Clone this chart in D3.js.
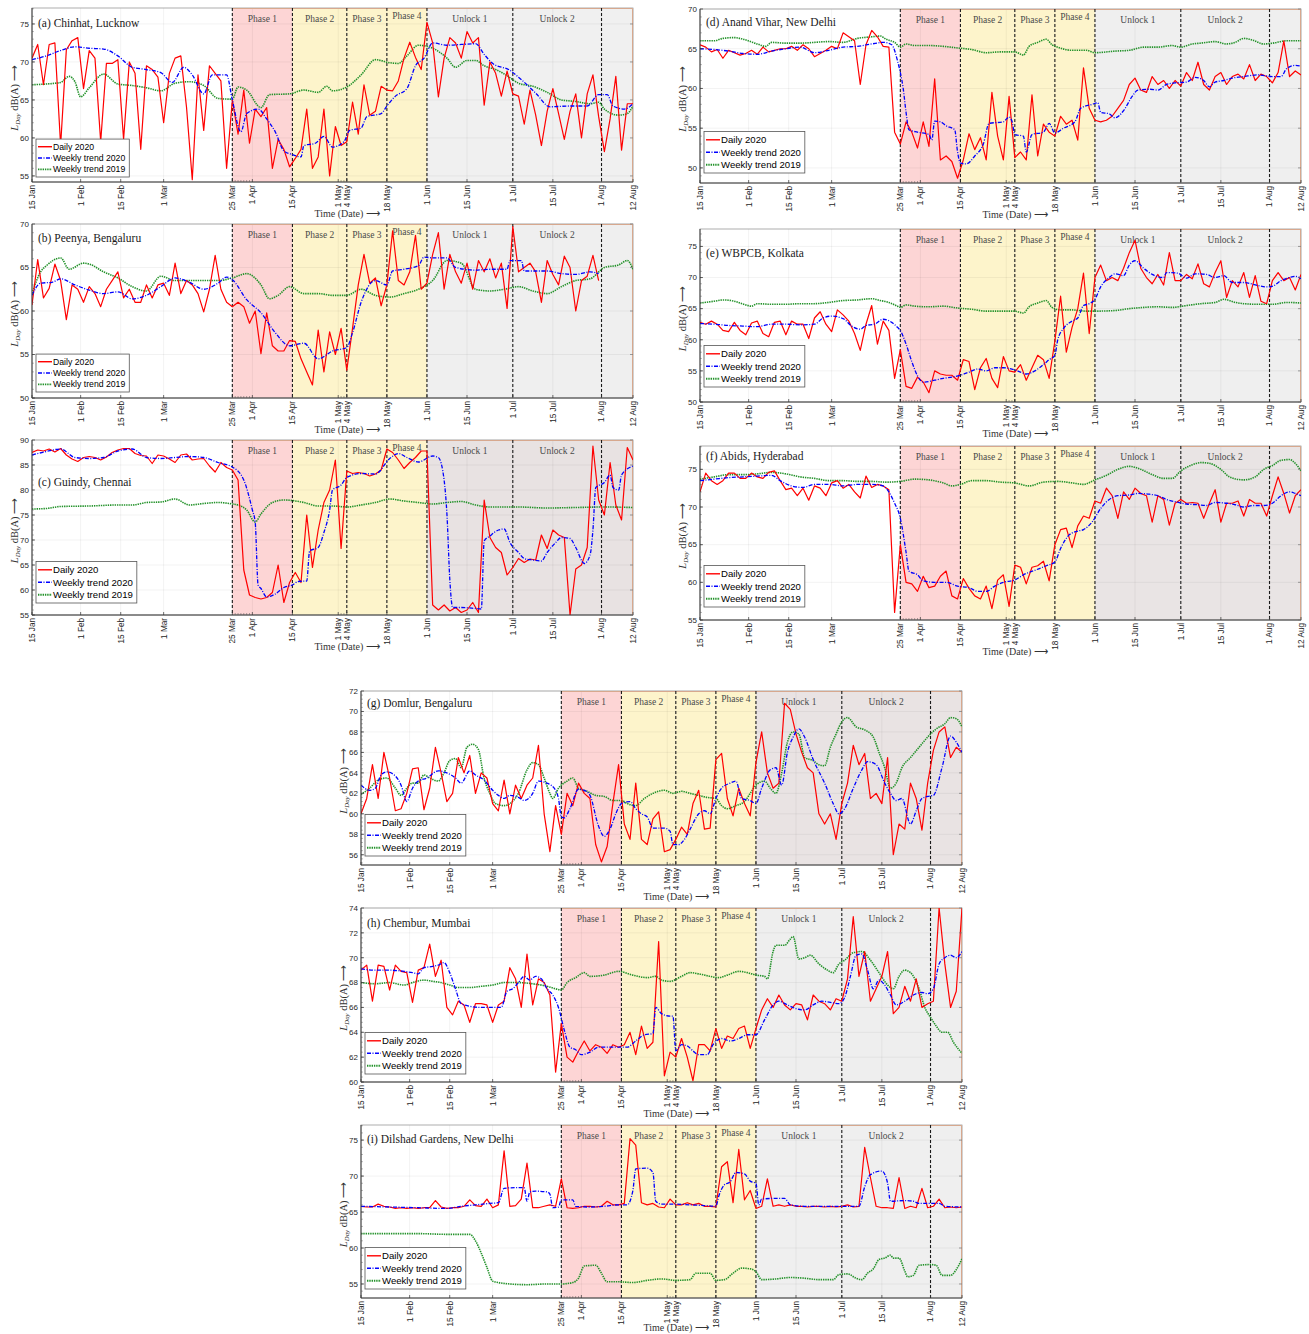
<!DOCTYPE html>
<html>
<head>
<meta charset="utf-8">
<script src="https://cdn.jsdelivr.net/npm/d3@7"></script>
<style>
body { margin: 0; background: #fff; }
svg text { font-family: "Liberation Sans", Arial, sans-serif; }
svg text.serif { font-family: "Liberation Serif", "Times New Roman", serif; }
</style>
</head>
<body>
<svg width="1309" height="1334"></svg>
<script>
const svg = d3.select('svg')

const parse = d3.timeParse('%Y-%m-%d')
const fmt = d3.timeFormat('%-d %b')
const day0 = parse('2020-01-15'), dayN = parse('2020-08-12')
const at = d => d3.timeDay.offset(day0, d)
const dailyStep = 2

const tickDates = ['2020-01-15', '2020-02-01', '2020-02-15', '2020-03-01', '2020-03-25', '2020-04-01',
    '2020-04-15', '2020-05-01', '2020-05-04', '2020-05-18', '2020-06-01', '2020-06-15', '2020-07-01',
    '2020-07-15', '2020-08-01', '2020-08-12'].map(parse)

const phaseNames = ['Phase 1', 'Phase 2', 'Phase 3', 'Phase 4', 'Unlock 1', 'Unlock 2']
const phaseStart = ['2020-03-25', '2020-04-15', '2020-05-04', '2020-05-18', '2020-06-01', '2020-07-01'].map(parse)
const phaseEnd = ['2020-04-15', '2020-05-04', '2020-05-18', '2020-06-01', '2020-07-01', '2020-08-12'].map(parse)
const labelEnd = ['2020-04-15', '2020-05-04', '2020-05-18', '2020-06-01', '2020-07-01', '2020-08-01'].map(parse)
const dashedDates = ['2020-03-25', '2020-04-15', '2020-05-04', '2020-05-18', '2020-06-01', '2020-07-01', '2020-08-01'].map(parse)

const seriesNames = ['Daily 2020', 'Weekly trend 2020', 'Weekly trend 2019']

// daily values, one every 2 days from 15 Jan
const aDaily = [70.5,72.3,67.0,72.3,72.5,59.0,71.6,72.8,73.2,66.5,
    71.5,70.5,59.5,69.8,69.8,70.3,59.8,70.0,68.5,58.5,
    69.5,69.0,68.0,62.0,68.5,70.5,70.8,64.0,54.5,68.3,
    61.0,69.5,68.5,67.5,56.0,65.0,60.5,66.3,59.3,63.8,
    62.8,64.0,56.0,59.8,58.5,56.2,57.3,58.5,63.8,56.0,
    57.5,63.8,55.0,61.5,59.0,59.5,64.7,60.5,67.0,63.0,
    63.5,66.8,66.3,66.2,67.5,70.5,72.6,70.6,69.0,75.2,
    72.5,65.4,70.5,73.2,72.5,70.5,74.0,72.5,73.2,64.3,
    70.0,68.5,65.5,68.8,65.8,65.5,61.8,66.3,63.0,59.0,
    63.5,66.5,63.2,59.8,63.5,65.8,60.0,65.8,68.3,62.8,
    58.2,62.5,68.1,58.4,64.5,64.5]
const aWeek20 = [[0,70.3],[5,70.8],[10,71.5],[15,72.0],[20,71.8],[25,71.7],[30,70.8],[35,69.3],[40,69.0],[45,68.6],
    [49,67.3],[53,69.3],[56,68.3],[60,65.8],[63,68.3],[68,68.3],[70,65.0],[73,60.8],[75,63.2],[79,63.8],[82,62.5],
    [85,60.8],[88,58.3],[91,57.8],[94,57.5],[95,59.0],[99,59.3],[102,60.2],[105,58.8],[109,59.5],[111,61.0],[115,61.3],
    [117,62.8],[122,63.2],[124,64.2],[127,65.5],[131,66.5],[134,69.5],[137,70.5],[140,72.5],[145,72.2],[150,72.3],
    [155,72.4],[158,71.0],[161,69.8],[167,68.9],[170,68.0],[176,65.9],[181,64.1],[188,64.2],[194,64.2],[198,65.7],
    [201,65.7],[203,64.2],[207,63.8],[210,64.5]]
const aWeek19 = [[0,67.0],[5,67.1],[10,67.3],[13,68.1],[15,67.4],[17,65.4],[20,66.6],[25,68.4],[30,67.1],[35,66.9],
    [40,66.6],[45,66.2],[50,67.2],[55,67.4],[60,66.9],[65,65.2],[70,65.1],[72,66.7],[75,66.3],[80,64.0],[83,65.7],
    [90,65.8],[95,66.3],[100,66.0],[103,66.8],[105,66.2],[110,66.7],[115,68.3],[120,70.3],[125,69.9],[128,69.8],
    [131,70.8],[135,72.2],[140,71.8],[145,70.5],[148,69.3],[152,70.2],[155,70.2],[158,69.5],[162,69.0],[166,68.2],
    [170,67.2],[175,66.8],[180,66.0],[185,65.0],[190,64.8],[195,64.5],[198,64.7],[200,63.8],[205,63.0],[208,63.2],[210,64.2]]

const bDaily = [60.7,65.9,61.5,62.6,65.4,63.5,59.0,63.0,62.5,61.0,
    62.8,62.0,60.5,62.5,63.5,64.5,61.5,62.5,61.0,61.0,
    63.0,61.5,63.0,63.2,61.8,65.5,62.0,63.5,63.0,62.0,
    59.9,62.5,66.4,62.5,61.0,60.5,61.0,60.5,58.6,60.0,
    55.1,59.8,56.0,55.4,55.4,56.6,56.5,54.5,53.0,51.5,
    57.8,53.0,57.6,55.0,58.0,53.2,58.0,63.0,66.5,63.2,
    63.8,60.6,63.0,69.2,63.5,63.0,64.5,68.7,62.5,63.2,
    66.5,69.0,62.5,66.5,64.5,63.2,65.5,62.5,65.8,64.5,
    66.0,63.8,65.5,60.3,69.7,64.5,65.0,65.5,64.5,61.0,
    65.8,64.2,63.0,66.3,65.0,60.0,63.5,64.0,66.4,63.5,
    null,null,null,null,null,null]
const bWeek20 = [[0,61.8],[3,63.2],[7,63.3],[10,63.7],[15,63.0],[20,62.4],[25,62.0],[30,62.2],[35,61.4],[40,61.8],
    [45,62.8],[50,63.8],[55,63.3],[60,62.5],[65,63.2],[68,63.9],[70,63.6],[75,61.3],[80,59.8],[85,57.5],[90,56.0],
    [95,56.3],[100,54.5],[105,55.4],[110,55.8],[112,57.5],[115,61.0],[120,63.5],[124,63.0],[126,64.6],[130,64.8],
    [135,65.2],[137,66.2],[140,66.1],[145,66.1],[148,65.0],[155,64.7],[160,64.8],[166,64.8],[167,65.8],[171,65.8],
    [172,64.6],[180,64.6],[185,64.3],[190,64.2],[195,64.5],[198,64.3]]
const bWeek19 = [[0,62.0],[3,64.5],[5,65.2],[10,66.1],[13,64.8],[18,65.5],[20,65.4],[25,64.5],[30,63.8],[35,62.8],
    [40,62.3],[45,64.0],[50,63.5],[55,63.5],[60,63.5],[65,63.5],[70,63.8],[75,64.3],[80,63.0],[83,61.4],[86,61.8],
    [90,62.8],[95,62.0],[100,62.0],[105,61.8],[110,61.8],[115,62.5],[120,61.8],[125,61.6],[130,62.0],[135,62.5],
    [140,63.5],[145,65.8],[150,65.5],[155,62.5],[160,62.3],[165,62.5],[170,62.8],[175,62.3],[180,62.0],[185,62.8],
    [190,63.5],[195,63.7],[200,65.0],[205,65.3],[208,65.8],[210,64.8]]

const cDaily = [87.5,88.0,87.8,88.2,87.6,88.3,87.0,86.2,85.7,86.5,
    86.7,86.5,86.0,86.6,87.5,88.0,88.3,88.3,87.3,86.9,
    86.8,85.3,87.0,86.8,86.2,85.5,87.0,87.2,86.0,86.2,
    86.3,84.8,83.6,85.5,84.5,84.0,82.0,64.0,59.0,58.5,
    58.2,58.5,59.5,65.0,57.5,61.5,63.5,61.5,75.0,64.5,
    72.0,77.5,80.0,86.0,68.3,83.8,83.3,83.5,83.3,82.8,
    83.2,84.0,88.2,87.5,86.0,84.3,85.5,86.5,87.8,87.8,
    57.0,56.0,57.0,55.8,56.5,55.5,56.0,57.5,55.5,78.0,
    70.5,68.5,67.5,63.0,64.5,66.3,65.5,66.2,66.0,71.0,
    68.3,72.0,71.0,70.5,55.0,64.2,65.0,68.5,88.8,78.0,
    75.0,85.5,77.0,74.0,88.5,86.0]
const cWeek20 = [[0,87],[5,87.7],[10,88.2],[15,86.5],[20,86.3],[25,86.5],[30,87.8],[35,88.2],[40,86.5],[45,86.3],
    [50,86.5],[55,86.7],[60,86.5],[65,85.5],[70,84.6],[74,82],[77,76],[78,73.5],[79,61],[80,60.3],[82,58.6],[85,59.2],
    [88,60.5],[91,61],[93,61.7],[96,61.8],[97,67.8],[100,68.5],[102,71.5],[104,76],[105,80],[108,81],[110,82.5],
    [115,83.3],[120,83.2],[125,86.3],[128,87.3],[131,86.5],[135,85.6],[140,86.8],[142,86.5],[144,82],[145,75],
    [146,62],[147,56.5],[150,56.5],[155,56.3],[157,56.2],[158,69.8],[160,70.8],[163,72],[165,72.2],[167,69.5],
    [170,67.5],[172,66.3],[175,66],[178,65.8],[180,67.5],[183,69.5],[185,70.5],[188,70.3],[190,68.5],[193,65.3],
    [195,67],[196,72],[197,80.5],[200,81.5],[202,83],[203,80.5],[205,80],[206,83],[210,84.8]]
const cWeek19 = [[0,76.2],[5,76.3],[10,76.7],[20,76.8],[30,77.0],[35,77.0],[40,77.5],[45,77.6],[50,78.2],[55,77.0],
    [60,77.3],[65,77.5],[70,77.2],[72,77.0],[75,76.0],[78,73.6],[80,75.2],[84,77.5],[88,78.0],[95,77.5],[100,76.8],
    [105,76.8],[110,76.6],[115,77.0],[120,77.5],[125,78.2],[130,77.8],[135,77.5],[140,77.2],[145,77.5],[150,77.7],
    [155,77.0],[160,76.6],[170,76.6],[180,76.4],[190,76.5],[200,76.6],[210,76.5]]

const dDaily = [65.5,65.2,64.6,64.9,63.8,64.8,64.5,64.2,64.4,64.8,
    64.3,65.2,64.6,64.8,65.0,65.0,65.3,64.8,65.5,65.0,
    64.0,64.4,64.8,65.3,65.0,67.0,66.5,66.0,60.5,65.5,
    67.3,66.5,65.3,65.2,54.5,53.0,55.8,54.5,52.5,55.8,
    52.7,61.2,51.0,51.5,50.8,48.7,51.0,54.3,52.3,53.8,
    51.0,59.5,54.0,51.0,59.0,51.3,52.0,51.0,59.2,51.5,
    55.5,54.5,54.0,56.5,55.5,56.0,53.5,62.6,57.5,56.0,
    55.8,56.0,56.5,57.5,58.5,60.5,61.3,59.8,59.5,61.5,
    60.5,61.0,60.0,61.0,60.3,62.0,61.0,63.3,60.5,59.8,
    61.5,62.0,60.5,61.5,61.8,61.2,63.0,61.0,61.8,61.5,
    60.7,62.0,66.0,61.5,62.2,61.7]
const dWeek20 = [[0,65],[5,64.9],[10,64.7],[15,64.4],[20,64.3],[25,64.7],[30,65],[35,65.2],[40,64.5],[45,64.8],
    [50,65.2],[55,65.3],[60,65.6],[64,65.8],[67,65.5],[69,63.5],[70,62],[71,60],[72,57],[73,54.8],[76,54.5],[80,54.2],
    [81,53.5],[82,55.9],[84,55.8],[86,55.3],[89,54.8],[90,52],[91,50.6],[93,50.5],[96,51.5],[99,53],[101,55.6],
    [106,55.8],[108,56.4],[109,55.9],[110,54.2],[113,54],[114,52],[116,54.2],[120,54.5],[122,55.6],[124,54.4],
    [127,55],[131,55.8],[133,57.5],[137,58],[139,58.2],[140,57],[143,56.8],[145,56.3],[148,57.2],[151,59],[153,59.8],
    [157,59.9],[160,59.8],[163,60.5],[166,60.7],[170,60.8],[173,61.4],[176,61],[178,60.2],[180,60.8],[183,61],
    [186,61.3],[190,61.5],[195,61.7],[200,61.5],[203,61.5],[205,62.5],[208,62.9],[210,62.8]]
const dWeek19 = [[0,66],[5,66],[8,66.3],[12,66.4],[15,66.2],[20,65.6],[23,65.3],[25,65.8],[30,65.7],[35,65.7],
    [40,65.8],[45,65.9],[50,65.8],[55,66.3],[60,66.5],[63,66.6],[65,66.2],[68,65.8],[70,65.2],[72,65.6],[75,65.4],
    [80,65.4],[85,65.3],[90,65.1],[95,64.9],[100,64.5],[105,64.6],[110,64.6],[113,64.2],[115,65.3],[118,65.8],
    [121,66.2],[123,65.5],[125,65.2],[130,64.8],[135,64.8],[138,64.5],[145,64.7],[150,64.8],[155,65.2],[160,65.2],
    [165,65.4],[168,65.2],[172,65.6],[175,65.7],[180,65.9],[184,65.6],[187,65.8],[190,66.3],[193,66.1],[197,65.6],
    [200,65.7],[205,66],[210,66]]

const eDaily = [62.8,62.5,63.0,62.5,61.5,61.3,62.8,61.5,60.8,62.7,
    63.0,61.0,60.5,62.8,63.0,60.8,63.0,62.5,62.5,60.2,
    63.5,64.5,62.5,61.3,64.8,64.0,63.0,61.0,58.3,62.5,
    65.5,59.3,63.0,61.5,53.8,58.4,52.5,52.2,54.0,53.2,
    51.5,55.0,54.5,54.3,54.3,53.5,56.8,56.5,52.0,55.5,
    57.0,53.8,52.3,57.3,55.0,54.8,56.0,53.5,55.5,57.5,
    56.8,53.8,59.8,67.0,58.0,62.0,65.0,70.7,61.0,70.0,
    72.0,69.5,70.0,69.5,71.5,74.0,76.0,71.5,70.0,69.0,
    70.5,68.8,74.0,69.5,69.5,70.5,69.8,72.2,69.0,68.5,
    70.8,72.7,66.8,69.5,68.5,70.8,66.8,70.3,66.2,65.8,
    69.5,70.8,69.5,70.0,68.0,70.5]
const eWeek20 = [[0,62.6],[5,62.5],[10,62.3],[15,62.2],[20,62.1],[25,62.5],[30,62.5],[35,62.4],[40,62.5],[43,63.5],
    [46,63.8],[50,63.4],[53,62.2],[56,61.7],[58,62.3],[61,62.5],[64,63.3],[67,62.8],[69,62],[70,61.5],[72,59.3],
    [74,56.5],[76,54.2],[78,53.2],[82,53.5],[85,53.8],[88,54],[91,54.3],[94,54.8],[97,55.3],[100,55],[103,55.5],
    [106,55.5],[109,55.3],[112,54.8],[114,54.5],[117,55],[120,56],[122,56.8],[124,57.5],[125,60],[127,61.8],[130,63],
    [132,63.5],[134,65.5],[136,65.8],[138,66.5],[140,68.5],[143,70],[145,70.6],[148,70.3],[150,72],[152,72.7],
    [155,71.5],[158,70.5],[162,70],[163,70.8],[167,70.7],[170,69.9],[173,70.6],[177,70.5],[180,70],[183,70.3],
    [186,69.2],[190,69.2],[195,68.7],[198,68.5],[200,68.6],[203,69.5],[206,70],[208,70.2],[210,69.8]]
const eWeek19 = [[0,65.9],[5,66.2],[8,66.4],[12,66.2],[16,65.6],[18,65.4],[20,65.8],[25,65.7],[30,65.7],[35,65.8],
    [40,65.8],[45,66],[50,66.3],[55,66.4],[60,66.6],[63,66.3],[66,66],[69,65.4],[70,65.2],[72,65.6],[75,65.4],
    [80,65.3],[85,65.4],[90,65.1],[95,64.9],[100,64.6],[105,64.6],[110,64.6],[113,64.3],[115,65.3],[118,65.9],
    [121,66.3],[123,65.2],[126,64.8],[130,64.8],[135,64.6],[138,64.6],[145,64.7],[150,65],[155,65.2],[160,65.3],
    [165,65.2],[170,65.5],[175,65.8],[180,66],[183,66.5],[187,66],[190,65.8],[195,65.7],[200,65.7],[205,66],[210,65.9]]

const fDaily = [72.0,74.5,73.5,73.0,73.5,74.5,74.5,73.8,73.8,74.5,
    74.0,73.8,74.6,74.8,73.5,72.3,72.5,71.5,72.5,70.9,
    72.8,72.5,71.5,73.2,73.5,72.5,73.0,72.0,71.2,74.1,
    72.6,73.0,72.8,72.3,56.0,65.0,60.0,59.8,58.8,60.8,
    59.3,59.5,60.8,61.5,58.2,57.8,60.5,59.2,58.2,57.8,
    59.5,56.5,60.3,61.0,56.8,62.3,62.0,59.8,62.0,62.2,
    62.8,60.2,65.0,67.0,67.2,64.6,67.5,68.8,68.5,70.8,
    70.5,72.5,71.5,68.5,72.0,71.0,72.5,71.8,71.5,68.0,
    71.5,71.0,67.6,70.5,71.0,70.5,70.6,70.5,68.5,70.5,
    72.3,68.0,70.5,70.5,70.8,68.8,71.0,70.5,70.5,68.8,
    71.5,74.0,71.8,69.2,71.5,72.3]
const fWeek20 = [[0,73.5],[5,73.7],[10,73.9],[15,74],[20,74.1],[25,74.2],[28,73.5],[32,72.8],[36,72.6],[40,73],
    [45,73],[50,72.8],[55,73],[60,73],[64,72.8],[66,72],[68,70.5],[70,68.5],[72,64],[73,61.5],[76,61],[78,60.2],
    [82,60],[86,60],[90,59.5],[94,59.3],[97,58.8],[100,58.8],[103,59.5],[106,60],[110,60.3],[113,61],[117,61.6],
    [121,62.2],[124,62.7],[126,64.5],[129,66.3],[132,66.8],[134,67],[137,68],[140,69.8],[143,71],[146,71.5],
    [150,71.6],[153,71.8],[157,71.7],[160,71.5],[163,71],[166,70.7],[170,70.4],[174,70.3],[177,70.2],[180,70.6],
    [184,70.5],[187,70.3],[190,70],[193,70.2],[197,70.2],[200,70.5],[203,71.5],[206,72],[208,71.8],[210,71.5]]
const fWeek19 = [[0,73.7],[5,74],[10,74.3],[15,74.3],[20,74.4],[25,74.6],[30,74.4],[35,74],[40,73.8],[45,73.5],
    [50,73.5],[55,73.4],[60,73.4],[65,73.3],[70,73.4],[75,73.7],[80,73.6],[85,73.2],[88,72.8],[91,73],[95,73.5],
    [100,73.5],[105,73.3],[110,73.2],[115,72.8],[120,73.3],[125,73.4],[130,73.2],[134,73],[138,73.6],[142,74.2],
    [146,75],[150,75.4],[154,75],[158,74.3],[162,73.8],[165,73.8],[168,74.8],[172,75.6],[175,75.9],[178,75.8],
    [182,75],[185,74],[190,73.6],[194,74],[197,75],[200,75.5],[203,76.2],[206,76.3],[208,75.8],[210,74.8]]

const gDaily = [60.0,61.5,64.8,61.5,66.0,63.5,60.3,60.5,62.0,64.4,
    64.5,60.4,62.5,66.5,64.0,61.2,62.0,65.5,64.0,65.7,
    62.0,64.0,63.5,61.0,60.3,63.3,60.0,62.8,61.5,62.8,
    63.5,66.7,60.0,56.3,60.8,58.0,62.0,60.8,63.0,62.0,
    61.5,57.0,55.3,56.8,61.0,64.8,59.0,57.5,63.0,57.5,
    57.0,59.5,60.2,56.3,56.5,57.5,58.7,58.0,61.0,62.3,
    58.5,58.6,65.3,65.9,61.5,59.8,62.5,61.0,59.8,65.0,
    68.0,64.0,62.5,63.0,70.8,70.2,67.8,66.0,64.5,64.0,
    60.0,59.0,60.0,57.5,61.0,63.0,66.7,64.8,65.9,61.5,
    62.0,61.0,65.5,56.0,59.0,58.5,63.0,61.5,58.4,63.0,
    66.2,68.0,68.5,65.5,66.5,66.0]
const gWeek20 = [[0,62.8],[3,62.3],[5,62.5],[7,63.8],[9,64.1],[12,63.7],[14,62.8],[16,61.2],[18,62.5],[20,63.2],
    [23,63.5],[27,64.2],[30,64],[33,63.5],[35,63],[38,64.2],[40,63.8],[43,63.3],[46,62.3],[48,61.8],[50,61.5],
    [52,61.8],[55,61.6],[57,61.3],[60,62],[62,63.2],[65,63],[68,62.3],[69,61.5],[70,59.7],[71,59.6],[73,60.5],
    [76,62.4],[78,62.3],[80,61.8],[83,58.8],[85,57.8],[87,58.5],[89,60],[91,61],[94,61.2],[96,60.5],[98,60],
    [100,59.7],[102,58.6],[106,58.6],[108,58.3],[109,57],[111,57],[113,57.5],[115,58.5],[118,60],[120,60.3],
    [122,60],[124,61.5],[126,62.5],[129,63],[131,63.2],[133,61.5],[136,61.3],[138,61],[140,62.5],[143,64.3],
    [145,64.5],[147,62.8],[149,66],[151,67.5],[153,68.3],[155,67.5],[158,65.3],[162,63],[165,61],[167,60],
    [169,60.5],[172,62.5],[175,64.3],[177,65.1],[180,64.8],[183,63],[185,62],[187,61.3],[189,61.5],[192,59],
    [194,60.3],[196,61.5],[198,61.7],[200,61.8],[203,64.5],[206,67.6],[208,67],[210,66]]
const gWeek19 = [[0,61.9],[3,62.5],[6,63.3],[9,63.5],[12,62.5],[14,61.8],[16,62.5],[18,63],[20,63],[22,63.8],
    [24,63.5],[27,63.2],[29,64],[31,65.2],[33,65.4],[35,64.5],[37,66.5],[39,66.8],[41,66.3],[43,63.5],[45,62],
    [47,61],[50,60.8],[52,61],[55,62],[58,64.3],[60,65],[62,64.8],[64,63.5],[66,62],[67,61.5],[69,62.5],[72,63.2],
    [74,63.5],[76,62.5],[79,62.2],[82,61.8],[85,61.7],[88,61.3],[91,61.3],[93,61],[96,60.8],[99,61.5],[102,62],
    [106,62.3],[109,62],[112,62.2],[115,62],[118,61.8],[121,61.6],[124,61.5],[126,60.8],[128,60.5],[131,60.8],
    [134,61.2],[136,62],[138,62.8],[141,63.2],[143,62.5],[145,62],[147,64],[149,67],[151,68],[153,67.8],[155,65.5],
    [158,65.2],[160,64.8],[162,64.7],[164,66.5],[166,67.8],[168,69],[170,69.4],[173,68.5],[176,68.2],[179,67.5],
    [181,66],[183,64.5],[185,62.5],[187,63],[189,64.5],[192,65.5],[195,66.5],[198,67.5],[201,68.3],[204,68.8],
    [206,69.4],[208,69.3],[210,68.5]]

const hDaily = [69.0,69.4,66.5,69.4,69.3,67.4,69.4,68.9,68.8,66.4,
    69.0,69.2,71.1,68.5,69.8,66.0,65.4,66.5,66.2,64.8,
    66.3,66.3,66.2,64.8,66.2,66.5,69.2,68.3,66.0,70.3,
    66.2,68.3,68.0,67.0,60.8,64.7,62.0,61.6,62.5,63.3,
    62.5,63.0,62.8,62.3,63.0,62.8,63.0,64.0,62.2,64.5,
    62.7,63.2,71.3,60.5,62.4,62.0,63.5,62.0,60.1,63.0,
    63.0,62.5,64.3,62.7,63.7,63.5,64.3,64.5,62.7,64.3,
    65.8,66.7,66.0,67.0,66.2,65.8,66.3,66.2,65.0,67.0,
    66.5,66.3,65.8,66.7,66.5,68.3,73.3,68.5,70.5,66.5,
    67.5,68.5,70.5,65.5,66.0,67.7,66.5,68.3,66.0,66.3,
    66.5,74.0,69.5,66.0,67.3,74.0]
const hWeek20 = [[0,69.1],[5,69],[10,69],[15,68.9],[18,68.8],[20,68.7],[22,69.2],[25,69.3],[27,69.4],[29,69.6],
    [31,68.8],[33,67.5],[35,66.3],[38,66.1],[42,66],[46,66],[49,66],[51,67.3],[53,67.5],[55,68],[57,68.5],[59,68.2],
    [61,68.5],[63,68.3],[65,67.5],[67,67],[69,66],[71,64.2],[73,62.8],[75,62.6],[77,62.2],[80,62.4],[83,62.8],
    [86,62.8],[90,62.8],[93,62.8],[96,63.3],[99,63.8],[102,63.9],[103,66],[105,65.5],[108,65.3],[109,65.3],
    [110,62.5],[112,63],[114,62.9],[116,62.5],[118,62.2],[121,62.2],[123,63],[126,63.5],[129,63.3],[132,63.5],
    [135,63.8],[138,63.8],[141,65],[144,66.2],[146,66.5],[149,66.2],[152,65.9],[155,65.8],[158,66.2],[161,66.5],
    [164,66.4],[167,66.3],[169,66.8],[171,68.5],[173,70.2],[175,70.3],[177,69],[179,67.5],[181,68.2],[183,67.8],
    [185,67],[187,66.2],[190,66.5],[193,67],[196,67.2],[198,67.1],[200,67.5],[202,69.5],[204,70],[206,70.2],
    [208,70],[210,70.5]]
const hWeek19 = [[0,68],[5,67.9],[10,68],[15,67.8],[18,68],[22,68.2],[25,68.1],[28,68],[31,67.8],[34,67.6],
    [38,67.6],[42,67.7],[46,67.8],[50,68],[55,68],[60,67.9],[65,67.7],[68,67.5],[70,67.4],[72,68],[75,68.4],
    [78,68.8],[80,68.5],[85,68.6],[90,68.9],[95,68.6],[100,68.4],[103,68.5],[105,68.2],[108,68.1],[112,68.5],
    [115,68.8],[118,68.7],[122,68.5],[125,68.4],[128,68.6],[132,68.9],[135,68.8],[138,68.6],[141,68.5],[142,68.3],
    [144,70.5],[145,71],[148,71],[150,71.5],[151,71.7],[153,69.9],[155,70],[157,70.2],[160,69.5],[163,69],
    [165,68.8],[167,69.5],[169,69.8],[172,70.4],[175,70.5],[178,69.8],[181,68.8],[184,67.8],[186,67.5],[188,68.5],
    [190,69],[192,68.8],[195,67.5],[197,66],[199,65.2],[201,64.5],[203,64],[205,64],[207,63.2],[210,62.3]]

const iDaily = [65.8,65.7,65.7,66.1,65.8,65.7,65.5,65.6,65.5,65.6,
    65.5,65.6,65.6,66.6,65.7,65.5,65.6,65.6,65.8,66.7,
    65.9,65.8,66.8,65.6,66.0,73.5,65.8,65.9,66.8,71.8,
    65.6,65.6,65.8,66.0,65.8,69.6,65.6,65.5,65.6,65.8,
    65.8,65.7,65.8,66.5,66.0,66.0,66.2,75.2,74.3,66.3,
    66.0,66.2,65.7,65.6,66.8,66.0,66.0,66.3,66.0,66.2,
    65.8,65.8,65.7,71.3,72.0,66.3,73.7,66.7,68.0,65.5,
    65.8,69.6,65.8,66.0,65.8,66.0,65.8,65.8,65.7,65.8,
    65.8,65.7,65.8,65.7,65.8,66.0,65.7,65.8,74.0,69.8,
    65.8,65.6,65.6,65.5,69.8,65.5,65.8,65.6,68.3,65.6,
    65.8,66.8,65.6,65.7,65.6,65.7]
const iWeek20 = [[0,65.8],[10,65.7],[20,65.6],[30,65.5],[35,65.8],[40,66],[45,66.2],[48,66.3],[50,68.3],[55,68.4],
    [57,68.4],[58,66.5],[59,67.8],[61,67.9],[65,67.8],[66,67.5],[67,65.6],[69,65.7],[70,66.7],[74,66.7],[75,65.8],
    [80,65.7],[85,65.8],[90,66],[93,66],[95,68],[96,71],[100,71.1],[102,70.5],[103,66.5],[105,66.1],[110,66.1],
    [115,66],[120,65.9],[124,65.8],[125,67.2],[127,68.8],[129,69.2],[131,70.5],[134,70.3],[136,69.3],[138,69],
    [139,66],[140,66.8],[145,66.9],[148,66.9],[150,66],[155,65.8],[160,65.8],[165,65.8],[170,65.8],[174,65.8],
    [176,68.5],[178,70.2],[182,70.7],[184,69],[185,66.5],[190,66.6],[193,66.5],[195,66.2],[202,66.2],[204,65.8],
    [210,65.7]]
const iWeek19 = [[0,62],[10,62],[20,62],[30,61.9],[38,61.9],[40,61],[42,59.3],[44,57.3],[46,55.4],[48,55.2],
    [52,55],[58,54.9],[65,55],[70,55.0],[74,55.2],[76,55.8],[78,57.5],[82,57.6],[84,56.5],[86,55.3],[90,55.3],
    [95,55.2],[100,55.5],[105,55.7],[110,55.5],[115,55.6],[117,56.5],[122,56.5],[124,55.5],[127,55.6],[130,56.5],
    [133,57.2],[136,57.1],[138,56.7],[140,55.6],[145,55.7],[150,55.9],[155,55.8],[160,55.6],[165,55.6],[167,56.3],
    [170,56.4],[173,55.8],[175,55.6],[177,56.5],[179,57.1],[181,58.4],[183,58.6],[185,59],[186,58.6],[188,58.6],
    [190,56.8],[191,56],[193,56.2],[195,57.6],[199,57.7],[201,57.6],[203,56.2],[206,56.2],[208,57],[210,58.5]]

const panels = [
    { id: 'a', title: '(a) Chinhat, Lucknow', daily: aDaily, wk20: aWeek20, wk19: aWeek19,
      x: 32, y: 8, h: 174, dom: [54.2, 77.1], ticks: [55, 60, 65, 70, 75], unlock: '#f0f0f0',
      titleDy: 19, legDy: 5, legFont: 8.7 },
    { id: 'b', title: '(b) Peenya, Bengaluru', daily: bDaily, wk20: bWeek20, wk19: bWeek19,
      x: 32, y: 224, h: 174, dom: [50, 70], ticks: [50, 55, 60, 65, 70], unlock: '#efefef',
      titleDy: 18, legDy: 6, legFont: 8.7 },
    { id: 'c', title: '(c) Guindy, Chennai', daily: cDaily, wk20: cWeek20, wk19: cWeek19,
      x: 32, y: 440, h: 175, dom: [55, 90], ticks: [55, 60, 65, 70, 75, 80, 85, 90], unlock: '#e8e2e2',
      titleDy: 46, legDy: 12, legFont: 9.6 },
    { id: 'd', title: '(d) Anand Vihar, New Delhi', daily: dDaily, wk20: dWeek20, wk19: dWeek19,
      x: 700, y: 9, h: 174, dom: [48.1, 70], ticks: [50, 55, 60, 65, 70], unlock: '#efefef',
      titleDy: 17, legDy: 10, legFont: 9.6 },
    { id: 'e', title: '(e) WBPCB, Kolkata', daily: eDaily, wk20: eWeek20, wk19: eWeek19,
      x: 700, y: 229, h: 173, dom: [50, 77.8], ticks: [50, 55, 60, 65, 70, 75], unlock: '#efefef',
      titleDy: 28, legDy: 15, legFont: 9.6 },
    { id: 'f', title: '(f) Abids, Hyderabad', daily: fDaily, wk20: fWeek20, wk19: fWeek19,
      x: 700, y: 446, h: 174, dom: [55, 78.1], ticks: [55, 60, 65, 70, 75], unlock: '#e9e4e4',
      titleDy: 14, legDy: 13, legFont: 9.6 },
    { id: 'g', title: '(g) Domlur, Bengaluru', daily: gDaily, wk20: gWeek20, wk19: gWeek19,
      x: 361, y: 691, h: 174, dom: [55, 72], ticks: [56, 58, 60, 62, 64, 66, 68, 70, 72], unlock: '#e9e3e3',
      titleDy: 16, legDy: 9, legFont: 9.6 },
    { id: 'h', title: '(h) Chembur, Mumbai', daily: hDaily, wk20: hWeek20, wk19: hWeek19,
      x: 361, y: 908, h: 174, dom: [60, 74], ticks: [60, 62, 64, 66, 68, 70, 72, 74], unlock: '#eeeeee',
      titleDy: 19, legDy: 8, legFont: 9.6 },
    { id: 'i', title: '(i) Dilshad Gardens, New Delhi', daily: iDaily, wk20: iWeek20, wk19: iWeek19,
      x: 361, y: 1125, h: 173, dom: [53.05, 77.1], ticks: [55, 60, 65, 70, 75], unlock: '#efefef',
      titleDy: 18, legDy: 9, legFont: 9.6 }
]
const plotW = 601
const pageH = 1334

const styles = [
    { color: '#ff0000', width: 1.2, dash: null },
    { color: '#0000ff', width: 1.3, dash: '4,1.5,1,1.5' },
    { color: '#23922a', width: 1.6, dash: '1.4,0.9' }
]

const drawPanel = (g, p) => {
    const w = plotW, h = p.h
    const x = d3.scaleTime().domain([day0, dayN]).range([0, w])
    const y = d3.scaleLinear().domain(p.dom).range([h, 0])

    g.append('rect').attr('width', w).attr('height', h).attr('fill', '#fff')

    g.selectAll('rect.phase')
        .data(phaseNames)
        .enter().append('rect')
            .attr('class', 'phase')
            .attr('x', (d, i) => x(phaseStart[i]))
            .attr('width', (d, i) => x(phaseEnd[i]) - x(phaseStart[i]))
            .attr('height', h)
            .attr('fill', (d, i) => i === 0 ? '#fdd5d5' : i < 4 ? '#fdf4cb' : p.unlock)

    // grid
    g.selectAll('line.gx')
        .data(tickDates)
        .enter().append('line')
            .attr('x1', d => x(d)).attr('x2', d => x(d))
            .attr('y1', 0).attr('y2', h)
            .attr('stroke', '#000').attr('stroke-opacity', 0.09).attr('stroke-width', 0.6)
    g.selectAll('line.gy')
        .data(p.ticks)
        .enter().append('line')
            .attr('x1', 0).attr('x2', w)
            .attr('y1', d => y(d)).attr('y2', d => y(d))
            .attr('stroke', '#000').attr('stroke-opacity', 0.09).attr('stroke-width', 0.6)

    // box, brownish over the shaded part
    g.append('rect').attr('width', w).attr('height', h)
        .attr('fill', 'none').attr('stroke', '#9a9a9a').attr('stroke-width', 0.8)
    g.append('path')
        .attr('d', `M${x(phaseStart[0])},0.5H${w - 0.5}V${h}`)
        .attr('fill', 'none').attr('stroke', '#d7a88e').attr('stroke-width', 1)

    g.selectAll('line.lock')
        .data(dashedDates)
        .enter().append('line')
            .attr('x1', d => x(d)).attr('x2', d => x(d))
            .attr('y1', 0).attr('y2', h)
            .attr('stroke', '#1a1a1a').attr('stroke-width', 1.1).attr('stroke-dasharray', '3,2')

    g.selectAll('text.phase')
        .data(phaseNames)
        .enter().append('text')
            .attr('class', 'serif')
            .attr('x', (d, i) => (x(phaseStart[i]) + x(labelEnd[i])) / 2)
            .attr('y', (d, i) => i === 3 ? 11 : 14)
            .attr('text-anchor', 'middle')
            .attr('font-size', 9.5)
            .attr('fill', '#4a4a4a')
            .text(d => d)

    // series
    const clipId = 'clip-' + p.id
    g.append('clipPath').attr('id', clipId)
        .append('rect').attr('width', w).attr('height', h)
    const lines = g.append('g').attr('clip-path', `url(#${clipId})`)

    const dailyPts = p.daily.map((v, i) => [i * dailyStep, v])
    const series = [dailyPts, p.wk20, p.wk19]
    const order = [2, 0, 1]
    order.forEach(k => {
        const line = d3.line()
            .defined(d => d[1] != null)
            .x(d => x(at(d[0])))
            .y(d => y(d[1]))
            .curve(k === 0 ? d3.curveLinear : d3.curveMonotoneX)
        lines.append('path')
            .datum(series[k])
            .attr('d', line)
            .attr('fill', 'none')
            .attr('stroke', styles[k].color)
            .attr('stroke-width', styles[k].width)
            .attr('stroke-dasharray', styles[k].dash)
            .attr('stroke-linejoin', 'round')
    })

    // axes
    g.append('path').attr('d', `M0,0V${h}H${w}`).attr('fill', 'none').attr('stroke', '#333').attr('stroke-width', 0.9)
    g.selectAll('line.tx')
        .data(tickDates)
        .enter().append('line')
            .attr('x1', d => x(d)).attr('x2', d => x(d))
            .attr('y1', h).attr('y2', h - 3)
            .attr('stroke', '#333').attr('stroke-width', 0.7)
    const minorDays = d3.timeDay.range(parse('2020-03-26'), parse('2020-04-01'))
        .concat(d3.timeDay.range(parse('2020-05-02'), parse('2020-05-04')))
    g.selectAll('line.mx')
        .data(minorDays)
        .enter().append('line')
            .attr('x1', d => x(d)).attr('x2', d => x(d))
            .attr('y1', h).attr('y2', h - 2)
            .attr('stroke', '#555').attr('stroke-width', 0.5)

    const tStep = p.ticks[1] - p.ticks[0]
    const minorY = d3.range(Math.ceil(p.dom[0] / (tStep / 5)) * (tStep / 5), p.dom[1], tStep / 5)
    g.selectAll('line.my')
        .data(minorY)
        .enter().append('line')
            .attr('x1', 0).attr('x2', 1.8)
            .attr('y1', d => y(d)).attr('y2', d => y(d))
            .attr('stroke', '#555').attr('stroke-width', 0.5)
    g.selectAll('line.ty')
        .data(p.ticks)
        .enter().append('line')
            .attr('x1', 0).attr('x2', 3)
            .attr('y1', d => y(d)).attr('y2', d => y(d))
            .attr('stroke', '#333').attr('stroke-width', 0.7)
    g.selectAll('line.ty2')
        .data(p.ticks)
        .enter().append('line')
            .attr('x1', w).attr('x2', w - 3)
            .attr('y1', d => y(d)).attr('y2', d => y(d))
            .attr('stroke', '#777').attr('stroke-width', 0.7)

    g.selectAll('text.tx')
        .data(tickDates)
        .enter().append('text')
            .attr('transform', d => `translate(${x(d)},${h + 3}) rotate(-90)`)
            .attr('text-anchor', 'end')
            .attr('dy', '0.35em')
            .attr('font-size', 8.2)
            .attr('fill', '#262626')
            .text(d => fmt(d))
    g.selectAll('text.ty')
        .data(p.ticks)
        .enter().append('text')
            .attr('x', -3)
            .attr('y', d => y(d))
            .attr('dy', '0.35em')
            .attr('text-anchor', 'end')
            .attr('font-size', 8)
            .attr('fill', '#262626')
            .text(d => d)

    g.append('text')
        .attr('class', 'serif')
        .attr('x', 6).attr('y', p.titleDy)
        .attr('font-size', 11.5)
        .attr('fill', '#1a1a1a')
        .text(p.title)

    const xl = g.append('text')
        .attr('class', 'serif')
        .attr('x', w * 0.47).attr('y', Math.min(h + 35, pageH - 3 - p.y))
        .attr('font-size', 10)
        .attr('fill', '#333')
    xl.append('tspan').text('Time (Date) ')
    xl.append('tspan').text('⟶')

    const yl = g.append('text')
        .attr('class', 'serif')
        .attr('transform', `translate(-14,${h / 2 + 3}) rotate(-90)`)
        .attr('text-anchor', 'middle')
        .attr('font-size', 10.5)
        .attr('fill', '#333')
    yl.append('tspan').attr('font-style', 'italic').text('L')
    yl.append('tspan').attr('font-style', 'italic').attr('font-size', 6.8).attr('dy', 2).text('Day')
    yl.append('tspan').attr('dy', -2).text(' dB(A) ')
    yl.append('tspan').text('⟶')

    // legend
    const rowH = p.legFont * 1.3
    const boxH = rowH * 3 + 4
    const leg = g.append('g').attr('transform', `translate(4,${h - p.legDy - boxH})`)
    const box = leg.append('rect')
        .attr('height', boxH)
        .attr('fill', '#fff').attr('stroke', '#555').attr('stroke-width', 0.8)
    let maxW = 0
    seriesNames.forEach((name, k) => {
        const cy = 2 + rowH * (k + 0.5)
        leg.append('line')
            .attr('x1', 2).attr('x2', 16)
            .attr('y1', cy).attr('y2', cy)
            .attr('stroke', styles[k].color)
            .attr('stroke-width', styles[k].width + 0.2)
            .attr('stroke-dasharray', styles[k].dash)
        const t = leg.append('text')
            .attr('x', 17).attr('y', cy)
            .attr('dy', '0.35em')
            .attr('font-size', p.legFont)
            .attr('fill', '#000')
            .text(name)
        maxW = Math.max(maxW, t.node().getComputedTextLength())
    })
    box.attr('width', maxW + 21)
}

panels.forEach(p => {
    svg.append('g')
        .attr('transform', `translate(${p.x},${p.y})`)
        .call(drawPanel, p)
})
</script>
</body>
</html>
